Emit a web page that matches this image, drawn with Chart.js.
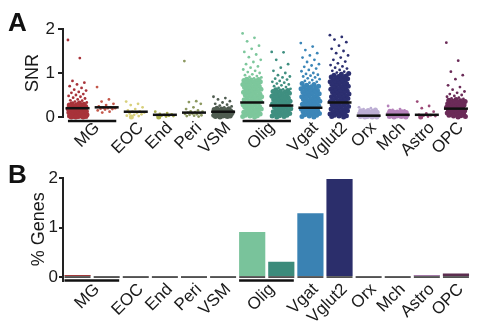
<!DOCTYPE html>
<html><head><meta charset="utf-8">
<script src="https://cdn.jsdelivr.net/npm/chart.js@4.4.1/dist/chart.umd.min.js"></script>
<style>
html,body{margin:0;padding:0;background:#fff;}
#wrap{position:relative;width:485px;height:335px;overflow:hidden;font-family:"Liberation Sans",Arial,sans-serif;}
#ca{position:absolute;left:0;top:0;}
#cb{position:absolute;left:0;top:160px;}
.pl{position:absolute;font-weight:bold;font-size:26px;line-height:1;color:#111;}
</style></head><body>
<div id="wrap">
<canvas id="ca" width="485" height="175"></canvas>
<canvas id="cb" width="485" height="175"></canvas>
<div class="pl" style="left:8px;top:9px">A</div>
<div class="pl" style="left:8px;top:161px">B</div>
</div>
<script>
// ---- data ----
const columns = ['MG1','MG2','EOC','End','Peri','VSM','Olig1','Olig2','Vgat','Vglut2','Orx','Mch','Astro','OPC'];
const columnGroup = ['MG','MG','EOC','End','Peri','VSM','Olig','Olig','Vgat','Vglut2','Orx','Mch','Astro','OPC'];
const pointColors = ['#a8333a','#c4584a','#d8d07c','#a9ae4c','#8c9860','#4f5c50','#7dc79c','#3f8f80','#3c86b8','#2c2f70','#bcaed4','#b682bb','#9c4a78','#6b2b58'];
const barColors = ['#a23a3c','#222','#222','#222','#222','#222','#79c39b','#3c8b7b','#3a82b3','#2b2e6b','#222','#222','#a47aa8','#5c2e50'];
// style: level below which a column's points are drawn as a dense body
const denseBelow = [0.32,0,0,0,0,0.2,0.86,0.62,0.76,1.0,0.16,0.13,0,0.4];
const yTicksA = [0,1,2];
const yTicksB = [0,1,2];

const medianSNR = [0.2,0.22,0.12,0.05,0.1,0.12,0.33,0.26,0.21,0.33,0.03,0.05,0.05,0.19];
const pctGenes = [0.04,0,0,0,0,0,0.91,0.31,1.29,1.98,0,0,0.04,0.07];

const snr_MG1 = [1.75,1.34,0.82,0.78,0.74,0.7,0.66,0.62,0.6,0.57,0.55,0.52,0.5,0.48,0.46,0.44,0.42,0.4,0.38,0.37,0.35,0.33,0.32,0.3,0.29,0.28,0.27,0.26,0.25,0.24,0.23,0.22,0.21,0.2,0.19,0.18,0.18,0.17,0.16,0.15,0.15,0.14,0.13,0.12,0.12,0.11,0.1,0.1,0.09,0.08,0.08,0.07,0.06,0.06,0.05,0.05,0.04,0.04,0.03,0.03,0.02,0.02,0.01,0.01,0.01,0,0,0];
const snr_MG2 = [0.68,0.4,0.35,0.3,0.27,0.24,0.22,0.21,0.2,0.2,0.19,0.18,0.17,0.15,0.12,0.1];
const snr_EOC = [0.35,0.3,0.27,0.22,0.18,0.15,0.13,0.12,0.1,0.09,0.08,0.06,0.05,0.03,0.02,0];
const snr_End = [0.12,0.09,0.07,0.06,0.05,0.04,0.03,0.03,0.02,0.01,0];
const snr_Peri = [1.27,0.36,0.34,0.3,0.22,0.18,0.15,0.13,0.12,0.11,0.1,0.09,0.08,0.07,0.06,0.05,0.04,0.03,0.02,0.01];
const snr_VSM = [0.46,0.43,0.4,0.36,0.33,0.3,0.28,0.26,0.24,0.22,0.2,0.19,0.18,0.17,0.16,0.15,0.14,0.13,0.12,0.12,0.11,0.1,0.1,0.09,0.09,0.08,0.08,0.07,0.07,0.06,0.06,0.05,0.05,0.04,0.04,0.03,0.03,0.02,0.02,0.01,0.01,0];
const snr_Olig1 = [1.9,1.8,1.72,1.62,1.55,1.48,1.42,1.36,1.3,1.25,1.2,1.15,1.12,1.08,1.05,1.02,1.0,0.97,0.95,0.93,0.91,0.9,0.88,0.86,0.85,0.84,0.83,0.82,0.81,0.8,0.79,0.77,0.76,0.75,0.74,0.72,0.71,0.7,0.68,0.67,0.66,0.64,0.63,0.62,0.6,0.59,0.58,0.56,0.55,0.54,0.52,0.51,0.5,0.48,0.47,0.46,0.44,0.43,0.42,0.4,0.39,0.38,0.36,0.35,0.34,0.32,0.31,0.3,0.28,0.27,0.26,0.24,0.23,0.22,0.2,0.19,0.18,0.16,0.15,0.14,0.12,0.11,0.1,0.08,0.07,0.06,0.04,0.03,0.02,0.01,0];
const snr_Olig2 = [1.48,1.47,1.3,1.2,1.12,1.05,1.0,0.95,0.92,0.9,0.87,0.85,0.82,0.8,0.78,0.76,0.74,0.72,0.7,0.68,0.66,0.64,0.63,0.62,0.6,0.59,0.58,0.56,0.55,0.54,0.52,0.51,0.5,0.48,0.47,0.46,0.44,0.43,0.42,0.4,0.39,0.38,0.36,0.35,0.34,0.32,0.31,0.3,0.28,0.27,0.26,0.24,0.23,0.22,0.2,0.19,0.18,0.16,0.15,0.14,0.12,0.11,0.1,0.08,0.07,0.06,0.04,0.03,0.02,0.01,0];
const snr_Vgat = [1.68,1.6,1.52,1.45,1.4,1.35,1.3,1.25,1.2,1.17,1.14,1.1,1.07,1.04,1.0,0.98,0.96,0.94,0.92,0.9,0.88,0.86,0.84,0.82,0.8,0.78,0.76,0.74,0.72,0.7,0.69,0.68,0.66,0.65,0.64,0.62,0.61,0.6,0.58,0.57,0.56,0.54,0.53,0.52,0.5,0.49,0.48,0.46,0.45,0.44,0.42,0.41,0.4,0.38,0.37,0.36,0.34,0.33,0.32,0.3,0.29,0.28,0.26,0.25,0.24,0.22,0.21,0.2,0.18,0.17,0.16,0.14,0.13,0.12,0.1,0.09,0.08,0.06,0.05,0.04,0.02,0.01,0];
const snr_Vglut2 = [1.86,1.82,1.76,1.7,1.62,1.55,1.5,1.45,1.4,1.35,1.3,1.26,1.22,1.18,1.15,1.12,1.1,1.07,1.05,1.03,1.01,0.99,0.97,0.95,0.93,0.92,0.91,0.9,0.88,0.87,0.86,0.84,0.83,0.82,0.8,0.79,0.78,0.76,0.75,0.74,0.72,0.71,0.7,0.68,0.67,0.66,0.64,0.63,0.62,0.6,0.59,0.58,0.56,0.55,0.54,0.52,0.51,0.5,0.48,0.47,0.46,0.44,0.43,0.42,0.4,0.39,0.38,0.36,0.35,0.34,0.32,0.31,0.3,0.28,0.27,0.26,0.24,0.23,0.22,0.2,0.19,0.18,0.16,0.15,0.14,0.12,0.11,0.1,0.08,0.07,0.06,0.04,0.03,0.02,0.01,0];
const snr_Orx = [0.22,0.2,0.18,0.16,0.15,0.14,0.13,0.12,0.11,0.1,0.1,0.09,0.08,0.08,0.07,0.06,0.06,0.05,0.05,0.04,0.04,0.03,0.03,0.02,0.02,0.01,0.01,0,0,0];
const snr_Mch = [0.25,0.18,0.16,0.15,0.14,0.13,0.12,0.11,0.1,0.1,0.09,0.09,0.08,0.08,0.07,0.07,0.06,0.06,0.05,0.05,0.04,0.04,0.03,0.03,0.02,0.02,0.01,0.01,0,0];
const snr_Astro = [0.35,0.25,0.2,0.12,0.08,0.05,0.04,0.03,0.02,0.01,0];
const snr_OPC = [1.69,1.28,1.03,0.95,0.86,0.72,0.68,0.62,0.58,0.55,0.52,0.5,0.48,0.46,0.44,0.42,0.41,0.4,0.38,0.37,0.36,0.35,0.34,0.33,0.32,0.31,0.3,0.29,0.28,0.27,0.26,0.25,0.24,0.23,0.22,0.21,0.2,0.19,0.18,0.17,0.16,0.15,0.14,0.13,0.12,0.11,0.1,0.09,0.08,0.07,0.06,0.05,0.04,0.03,0.02,0.01,0];
const snrLists = [snr_MG1,snr_MG2,snr_EOC,snr_End,snr_Peri,snr_VSM,snr_Olig1,snr_Olig2,snr_Vgat,snr_Vglut2,snr_Orx,snr_Mch,snr_Astro,snr_OPC];

// ---- derived ----
const tickLabels = [];
const groupMembers = {};
columnGroup.forEach((g,i)=>{ if(!groupMembers[g]){groupMembers[g]=[];tickLabels.push(g);} groupMembers[g].push(i+1); });
const tickPos = tickLabels.map(g=>{const m=groupMembers[g]; return m.reduce((a,b)=>a+b,0)/m.length;});
const jit = k => (((k*0.6180339887)%1)-0.5)*0.66;
const FF = '"Liberation Sans", Arial, Helvetica, sans-serif';
const TXT = '#1a1a1a';

const groupLines = {
  id:'groupLines',
  afterDatasetsDraw(chart, args, o){
    const ctx = chart.ctx, x = chart.scales.x, y = chart.scales.y;
    ctx.save(); ctx.strokeStyle = '#111'; ctx.lineWidth = o.width;
    tickLabels.forEach(g=>{
      const m = groupMembers[g]; if (m.length < 2) return;
      const a = x.getPixelForValue(m[0]-o.extL), b = x.getPixelForValue(m[m.length-1]+o.extR);
      const yy = y.getPixelForValue(0) + o.dy;
      ctx.beginPath(); ctx.moveTo(a,yy); ctx.lineTo(b,yy); ctx.stroke();
    });
    ctx.restore();
  }
};

function xScale(h, pad, off){
  return {type:'linear', min:0.5, max:14.5, offset:false,
    grid:{display:false}, border:{display:false},
    afterBuildTicks: s=>{ s.ticks = tickPos.map(v=>({value:v})); },
    afterFit: s=>{ s.height = h; },
    ticks:{autoSkip:false, minRotation:45, maxRotation:45, padding:pad, labelOffset:off,
      font:{size:17, family:FF}, color:TXT, callback:(v,i)=>tickLabels[i]}};
}
function yScale(min, max, ticksArr, title, tl, pad, tpad){
  return {min:min, max:max,
    afterBuildTicks: s=>{ s.ticks = ticksArr.map(v=>({value:v})); },
    afterFit: s=>{ s.width = 63; },
    grid:{drawOnChartArea:false, drawTicks:true, tickLength:tl, color:'#222', lineWidth:2},
    border:{display:true, color:'#222', width:2},
    ticks:{padding:pad, font:{size:17, family:FF}, color:TXT},
    title:{display:true, text:title, font:{size:18, family:FF}, color:TXT, padding:tpad}};
}

Chart.register(groupLines);

new Chart(document.getElementById('ca'), {
  type:'scatter',
  data:{datasets:[
    {data: medianSNR.map((m,i)=>({x:i+1,y:m})), pointStyle:'line', pointRadius:12, pointHoverRadius:12, borderColor:'#111', borderWidth:2.5, order:0, clip:false},
    ...snrLists.map((arr,i)=>({data: arr.map((v,k)=>({x:i+1+jit(k), y:v})), backgroundColor:pointColors[i], pointBackgroundColor:pointColors[i], borderWidth:0,
      pointRadius: c => (c.raw && c.raw.y <= denseBelow[i]) ? 2.5 : 1.4, order:1, clip:false}))
  ]},
  options:{responsive:false, animation:false, events:[],
    layout:{padding:{top:29, right:2, left:0, bottom:0}},
    plugins:{legend:{display:false}, tooltip:{enabled:false}, groupLines:{width:2.5, extL:0.33, extR:0.33, dy:4}},
    scales:{ x: xScale(58, -7, 5), y: yScale(0, 2, yTicksA, 'SNR', 5, 3, {top:22,bottom:0}) }
  }
});

new Chart(document.getElementById('cb'), {
  type:'bar',
  data:{datasets:[
    {type:'scatter', data: columns.map((c,i)=>({x:i+1,y:0})), pointStyle:'line', pointRadius:13, pointHoverRadius:13, borderColor:'#222', borderWidth:1.5, order:2, clip:false},
    {data: pctGenes.map((v,i)=>({x:i+1,y:v})), backgroundColor:barColors, barPercentage:0.9, categoryPercentage:1, order:1}
  ]},
  options:{responsive:false, animation:false, events:[],
    layout:{padding:{top:18, right:2, left:0, bottom:0}},
    plugins:{legend:{display:false}, tooltip:{enabled:false}, groupLines:{width:2.5, extL:0.45, extR:0.43, dy:3.5}},
    scales:{ x: xScale(54.5, -9, 5), y: yScale(-0.07, 2, yTicksB, '% Genes', 4, 1, {top:28,bottom:0}) }
  }
});
</script>
</body></html>
